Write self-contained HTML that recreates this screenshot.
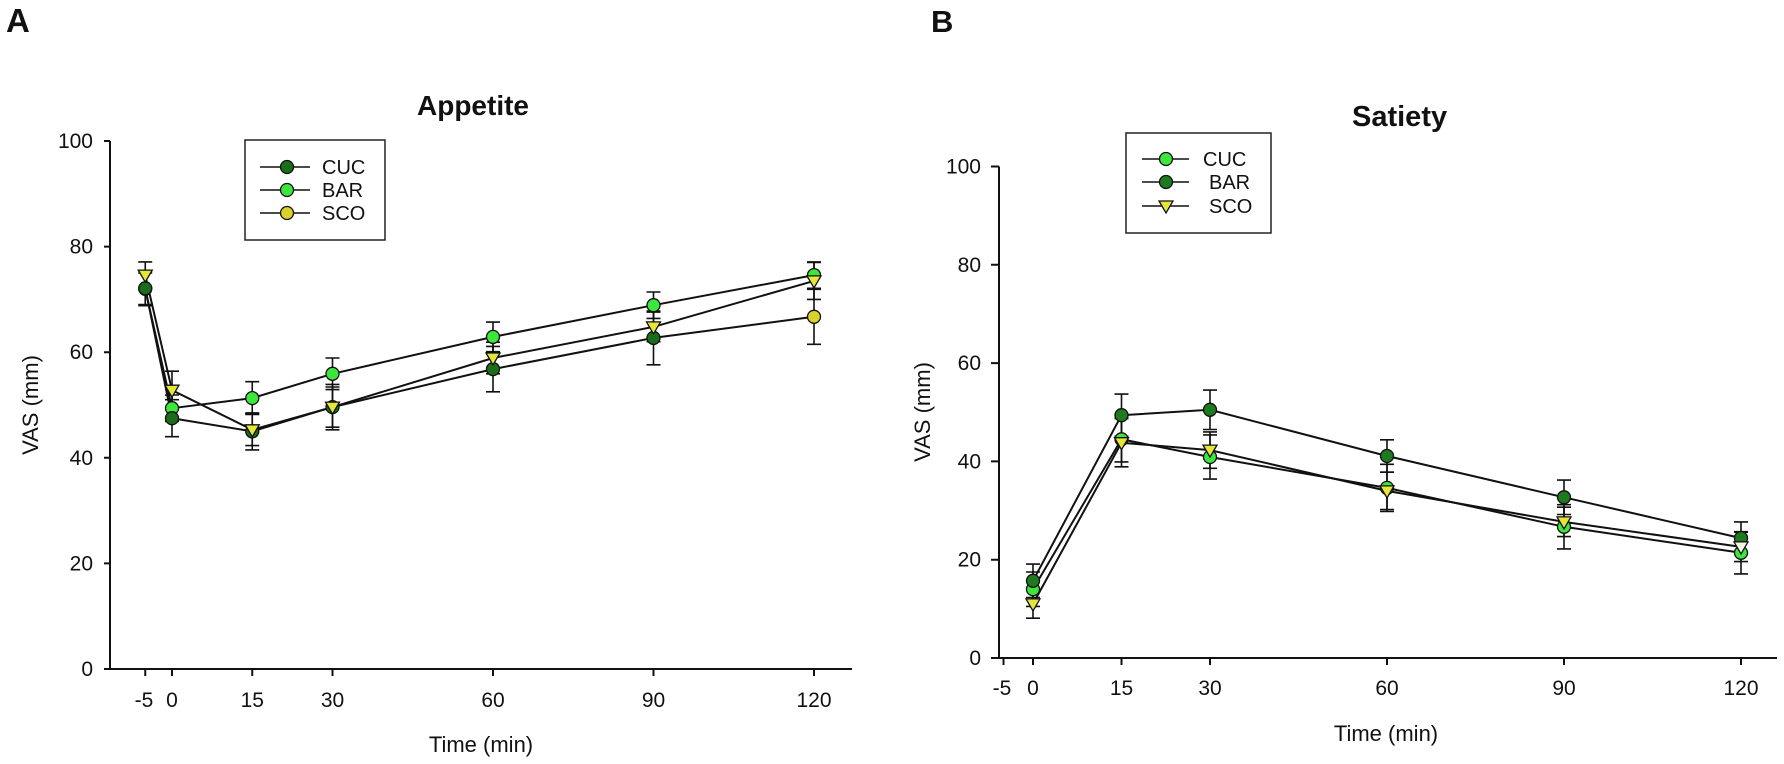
<!DOCTYPE html>
<html><head><meta charset="utf-8"><style>
html,body{margin:0;padding:0;background:#fff;}
svg{display:block;}
text{font-family:"Liberation Sans",Arial,sans-serif;fill:#111;}
</style></head><body>
<svg width="1784" height="764" viewBox="0 0 1784 764" xmlns="http://www.w3.org/2000/svg">
<rect width="1784" height="764" fill="#fff"/>

<!-- Panel letters -->
<text x="6" y="32" font-size="33" font-weight="bold">A</text>
<text x="931" y="32" font-size="31" font-weight="bold">B</text>

<!-- ============ PANEL A ============ -->
<text x="417" y="115" font-size="28" font-weight="bold">Appetite</text>
<g stroke="#111" stroke-width="2" fill="none">
  <path d="M110,141 V669 H852"/>
  <path d="M104,669 H110 M104,563.4 H110 M104,457.8 H110 M104,352.2 H110 M104,246.6 H110 M104,141 H110"/>
  <path d="M145.25,669 V676 M172,669 V676 M252.25,669 V676 M332.5,669 V676 M493,669 V676 M653.5,669 V676 M814,669 V676"/>
</g>
<g font-size="21" text-anchor="end">
  <text x="93" y="676">0</text>
  <text x="93" y="570.4">20</text>
  <text x="93" y="464.8">40</text>
  <text x="93" y="359.2">60</text>
  <text x="93" y="253.6">80</text>
  <text x="93" y="148">100</text>
</g>
<g font-size="21" text-anchor="middle">
  <text x="144" y="707">-5</text>
  <text x="172" y="707">0</text>
  <text x="252.25" y="707">15</text>
  <text x="332.5" y="707">30</text>
  <text x="493" y="707">60</text>
  <text x="653.5" y="707">90</text>
  <text x="814" y="707">120</text>
</g>
<text x="481" y="752" font-size="22" text-anchor="middle">Time (min)</text>
<text transform="translate(38,405) rotate(-90)" font-size="22" text-anchor="middle">VAS (mm)</text>

<!-- lines A -->
<g stroke="#111" stroke-width="2" fill="none">
  <polyline points="145.25,288.8 172,408.2 252.25,398.1 332.5,373.8 493,336.9 653.5,305.2 814,275.1"/>
  <polyline points="145.25,275.1 172,390.2 252.25,429.8 332.5,407.1 493,358.0 653.5,326.9 814,280.9"/>
  <polyline points="145.25,288.3 172,418.2 252.25,431.4 332.5,407.1 493,369.1 653.5,337.9 814,316.8"/>
</g>
<!-- error bars A -->
<g stroke="#111" stroke-width="1.6" fill="none">
  <path d="M145.25,273 V304.6 M138.25,273 H152.25 M138.25,304.6 H152.25
           M172,395 V421.4 M165,395 H179 M165,421.4 H179
           M252.25,381.7 V414.5 M245.25,381.7 H259.25 M245.25,414.5 H259.25
           M332.5,358 V389.6 M325.5,358 H339.5 M325.5,389.6 H339.5
           M493,322.1 V351.7 M486,322.1 H500 M486,351.7 H500
           M653.5,292 V318.4 M646.5,292 H660.5 M646.5,318.4 H660.5
           M814,261.9 V288.3 M807,261.9 H821 M807,288.3 H821"/>
  <path d="M145.25,261.9 V288.3 M138.25,261.9 H152.25 M138.25,288.3 H152.25
           M172,371.2 V409.2 M165,371.2 H179 M165,409.2 H179
           M252.25,414 V445.6 M245.25,414 H259.25 M245.25,445.6 H259.25
           M332.5,387 V427.2 M325.5,387 H339.5 M325.5,427.2 H339.5
           M493,342.2 V373.8 M486,342.2 H500 M486,373.8 H500
           M653.5,312.1 V341.7 M646.5,312.1 H660.5 M646.5,341.7 H660.5
           M814,262.4 V299.4 M807,262.4 H821 M807,299.4 H821"/>
  <path d="M145.25,270.9 V305.7 M138.25,270.9 H152.25 M138.25,305.7 H152.25
           M172,399.7 V436.7 M165,399.7 H179 M165,436.7 H179
           M252.25,412.9 V449.9 M245.25,412.9 H259.25 M245.25,449.9 H259.25
           M332.5,384.4 V429.8 M325.5,384.4 H339.5 M325.5,429.8 H339.5
           M493,346.4 V391.8 M486,346.4 H500 M486,391.8 H500
           M653.5,311 V364.8 M646.5,311 H660.5 M646.5,364.8 H660.5
           M814,289.3 V344.3 M807,289.3 H821 M807,344.3 H821"/>
</g>
<!-- markers A -->
<g stroke="#111" stroke-width="1.3">
  <g fill="#3ce63c">
    <circle cx="145.25" cy="288.8" r="6.5"/><circle cx="172" cy="408.2" r="6.5"/><circle cx="252.25" cy="398.1" r="6.5"/>
    <circle cx="332.5" cy="373.8" r="6.5"/><circle cx="493" cy="336.9" r="6.5"/><circle cx="653.5" cy="305.2" r="6.5"/>
    <circle cx="814" cy="275.1" r="6.5"/>
  </g>
  <g fill="#1a6e1a">
    <circle cx="145.25" cy="288.3" r="6.5"/><circle cx="172" cy="418.2" r="6.5"/><circle cx="252.25" cy="431.4" r="6.5"/>
    <circle cx="332.5" cy="407.1" r="6.5"/><circle cx="493" cy="369.1" r="6.5"/><circle cx="653.5" cy="337.9" r="6.5"/>
  </g>
  <circle cx="814" cy="316.8" r="6.5" fill="#d8d22a"/>
  <g fill="#e6e63a">
    <path d="M138.25,270.1 H152.25 L145.25,282.1 Z"/>
    <path d="M165,385.2 H179 L172,397.2 Z"/>
    <path d="M245.25,424.8 H259.25 L252.25,436.8 Z"/>
    <path d="M325.5,402.1 H339.5 L332.5,414.1 Z"/>
    <path d="M486,353 H500 L493,365 Z"/>
    <path d="M646.5,321.9 H660.5 L653.5,333.9 Z"/>
    <path d="M807,275.9 H821 L814,287.9 Z"/>
  </g>
</g>
<!-- legend A -->
<rect x="245" y="140" width="140" height="100" fill="#fff" stroke="#222" stroke-width="1.5"/>
<g stroke="#111" stroke-width="1.5">
  <path d="M260,167 H310 M260,190 H310 M260,213 H310"/>
  <circle cx="287" cy="167" r="6.5" fill="#1a6e1a" stroke-width="1.3"/>
  <circle cx="287" cy="190" r="6.5" fill="#3ce63c" stroke-width="1.3"/>
  <circle cx="287" cy="213" r="6.5" fill="#d8d22a" stroke-width="1.3"/>
</g>
<g font-size="20">
  <text x="322" y="174">CUC</text>
  <text x="322" y="197">BAR</text>
  <text x="322" y="220">SCO</text>
</g>

<!-- ============ PANEL B ============ -->
<text x="1352" y="126" font-size="29" font-weight="bold">Satiety</text>
<g stroke="#111" stroke-width="2" fill="none">
  <path d="M999,166.5 V658 H1777"/>
  <path d="M991,658 H999 M991,559.7 H999 M991,461.4 H999 M991,363.1 H999 M991,264.8 H999 M991,166.5 H999"/>
  <path d="M1003.5,658 V665 M1033,658 V665 M1121.5,658 V665 M1210,658 V665 M1387,658 V665 M1564,658 V665 M1741,658 V665"/>
</g>
<g font-size="21" text-anchor="end">
  <text x="981" y="665">0</text>
  <text x="981" y="566.7">20</text>
  <text x="981" y="468.4">40</text>
  <text x="981" y="370.1">60</text>
  <text x="981" y="271.8">80</text>
  <text x="981" y="173.5">100</text>
</g>
<g font-size="21" text-anchor="middle">
  <text x="1002" y="695">-5</text>
  <text x="1033" y="695">0</text>
  <text x="1121.5" y="695">15</text>
  <text x="1210" y="695">30</text>
  <text x="1387" y="695">60</text>
  <text x="1564" y="695">90</text>
  <text x="1741" y="695">120</text>
</g>
<text x="1386" y="741" font-size="22" text-anchor="middle">Time (min)</text>
<text transform="translate(930,412) rotate(-90)" font-size="22" text-anchor="middle">VAS (mm)</text>

<!-- lines B -->
<g stroke="#111" stroke-width="2" fill="none">
  <polyline points="1033,580.8 1121.5,415.2 1210,409.8 1387,456 1564,497.3 1741,538.1"/>
  <polyline points="1033,589.2 1121.5,439.3 1210,457 1387,487.9 1564,526.8 1741,552.8"/>
  <polyline points="1033,603.9 1121.5,442.7 1210,450.1 1387,490.9 1564,521.9 1741,546.9"/>
</g>
<!-- error bars B -->
<g stroke="#111" stroke-width="1.6" fill="none">
  <path d="M1033,564.1 V597.5 M1026,564.1 H1040 M1026,597.5 H1040
           M1121.5,394.1 V436.3 M1114.5,394.1 H1128.5 M1114.5,436.3 H1128.5
           M1210,390.1 V429.5 M1203,390.1 H1217 M1203,429.5 H1217
           M1387,439.8 V472.2 M1380,439.8 H1394 M1380,472.2 H1394
           M1564,480.1 V514.5 M1557,480.1 H1571 M1557,514.5 H1571
           M1741,521.9 V554.3 M1734,521.9 H1748 M1734,554.3 H1748"/>
  <path d="M1033,572 V606.4 M1026,572 H1040 M1026,606.4 H1040
           M1121.5,416.7 V461.9 M1114.5,416.7 H1128.5 M1114.5,461.9 H1128.5
           M1210,434.9 V479.1 M1203,434.9 H1217 M1203,479.1 H1217
           M1387,464.3 V511.5 M1380,464.3 H1394 M1380,511.5 H1394
           M1564,504.7 V548.9 M1557,504.7 H1571 M1557,548.9 H1571
           M1741,531.7 V573.9 M1734,531.7 H1748 M1734,573.9 H1748"/>
  <path d="M1033,589.6 V618.2 M1026,589.6 H1040 M1026,618.2 H1040
           M1121.5,418.6 V466.8 M1114.5,418.6 H1128.5 M1114.5,466.8 H1128.5
           M1210,431.9 V468.3 M1203,431.9 H1217 M1203,468.3 H1217
           M1387,472.2 V509.6 M1380,472.2 H1394 M1380,509.6 H1394
           M1564,507.2 V536.6 M1557,507.2 H1571 M1557,536.6 H1571
           M1741,532.2 V561.6 M1734,532.2 H1748 M1734,561.6 H1748"/>
</g>
<!-- markers B -->
<g stroke="#111" stroke-width="1.3">
  <g fill="#3ce63c">
    <circle cx="1033" cy="589.2" r="6.5"/><circle cx="1121.5" cy="439.3" r="6.5"/><circle cx="1210" cy="457" r="6.5"/>
    <circle cx="1387" cy="487.9" r="6.5"/><circle cx="1564" cy="526.8" r="6.5"/><circle cx="1741" cy="552.8" r="6.5"/>
  </g>
  <g fill="#1e7a1e">
    <circle cx="1033" cy="580.8" r="6.5"/><circle cx="1121.5" cy="415.2" r="6.5"/><circle cx="1210" cy="409.8" r="6.5"/>
    <circle cx="1387" cy="456" r="6.5"/><circle cx="1564" cy="497.3" r="6.5"/><circle cx="1741" cy="538.1" r="6.5"/>
  </g>
  <g fill="#e6e63a">
    <path d="M1026,598.9 H1040 L1033,610.9 Z"/>
    <path d="M1114.5,437.7 H1128.5 L1121.5,449.7 Z"/>
    <path d="M1203,445.1 H1217 L1210,457.1 Z"/>
    <path d="M1380,485.9 H1394 L1387,497.9 Z"/>
    <path d="M1557,516.9 H1571 L1564,528.9 Z"/>
  </g>
  <path d="M1734,541.9 H1748 L1741,553.9 Z" fill="#f6f6e4"/>
</g>
<!-- legend B -->
<rect x="1126" y="133" width="145" height="100" fill="#fff" stroke="#222" stroke-width="1.5"/>
<g stroke="#111" stroke-width="1.5">
  <path d="M1142,159 H1189 M1142,182 H1189 M1142,206 H1189"/>
  <circle cx="1166" cy="159" r="6.5" fill="#3ce63c" stroke-width="1.3"/>
  <circle cx="1166" cy="182" r="6.5" fill="#1e7a1e" stroke-width="1.3"/>
  <path d="M1159,201 H1173 L1166,213 Z" fill="#e6e63a" stroke-width="1.3"/>
</g>
<g font-size="20">
  <text x="1203" y="166">CUC</text>
  <text x="1209" y="189">BAR</text>
  <text x="1209" y="213">SCO</text>
</g>
</svg>
</body></html>
